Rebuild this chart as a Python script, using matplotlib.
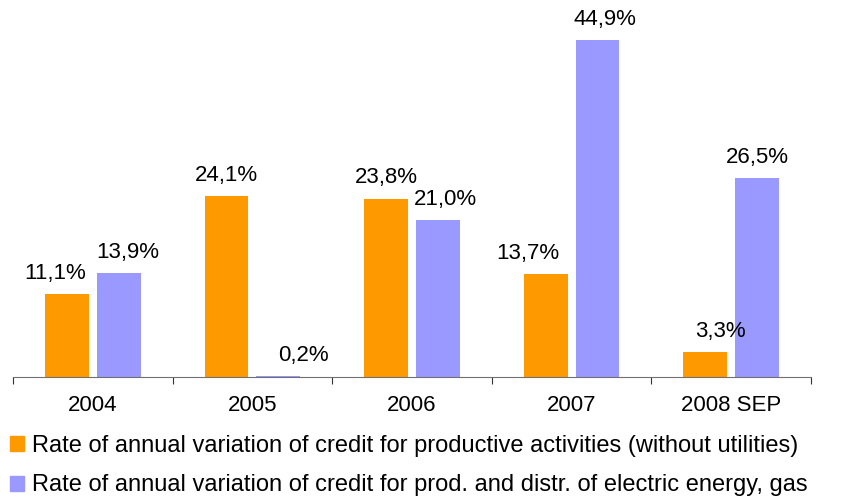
import matplotlib.pyplot as plt
import numpy as np
from matplotlib.patches import Patch

years = ['2004', '2005', '2006', '2007', '2008 SEP']
productive = [11.1, 24.1, 23.8, 13.7, 3.3]
energy = [13.9, 0.2, 21.0, 44.9, 26.5]
legend_labels = [
    'Rate of annual variation of credit for productive activities (without utilities)',
    'Rate of annual variation of credit for prod. and distr. of electric energy, gas',
]

# small sideways nudges of the value labels, in pixels
prod_shift = [-12, 0, 0, -18, 15]
energy_shift = [9, 25, 8, 7, 0]


def main():
    plt.rcParams['font.family'] = ['Liberation Sans', 'DejaVu Sans']
    fig = plt.figure(figsize=(8.41, 4.97), dpi=100)
    ax = fig.add_axes([13 / 841, 120 / 497, 798 / 841, 377 / 497])

    x = np.arange(len(years))
    w = 0.275
    off = 0.1625
    orange = '#FF9900'
    purple = '#9999FF'
    ax.bar(x - off, productive, w, color=orange)
    ax.bar(x + off, energy, w, color=purple)

    for xi, v, s in zip(x - off, productive, prod_shift):
        ax.annotate(f'{v:.1f}%'.replace('.', ','), (xi, v), xytext=(s, 10),
                    textcoords='offset pixels', ha='center', va='bottom', fontsize=16)
    for xi, v, s in zip(x + off, energy, energy_shift):
        ax.annotate(f'{v:.1f}%'.replace('.', ','), (xi, v), xytext=(s, 10),
                    textcoords='offset pixels', ha='center', va='bottom', fontsize=16)

    ax.set_xlim(-0.5, 4.5)
    ax.set_ylim(0, 377 / 7.5)
    ax.set_yticks([])
    for side in ['left', 'right', 'top']:
        ax.spines[side].set_visible(False)
    ax.spines['bottom'].set_color('#707070')
    ax.set_xticks(np.arange(len(years) + 1) - 0.5)
    ax.set_xticklabels([])
    ax.set_xticks(x, minor=True)
    ax.set_xticklabels(years, minor=True, fontsize=16)
    ax.tick_params(axis='x', which='major', direction='out', length=5, color='#333333')
    ax.tick_params(axis='x', which='minor', length=0, pad=13)

    handles = [Patch(color=orange), Patch(color=purple)]
    fig.legend(handles, legend_labels, loc='center left', bbox_to_anchor=(10 / 841, 31.5 / 497),
               frameon=False, fontsize=17, handlelength=0.6, handleheight=0.6,
               handletextpad=0.34, labelspacing=0.75, borderaxespad=0, borderpad=0)

    fig.savefig('out.png', dpi=100)


if __name__ == "__main__":
    main()
